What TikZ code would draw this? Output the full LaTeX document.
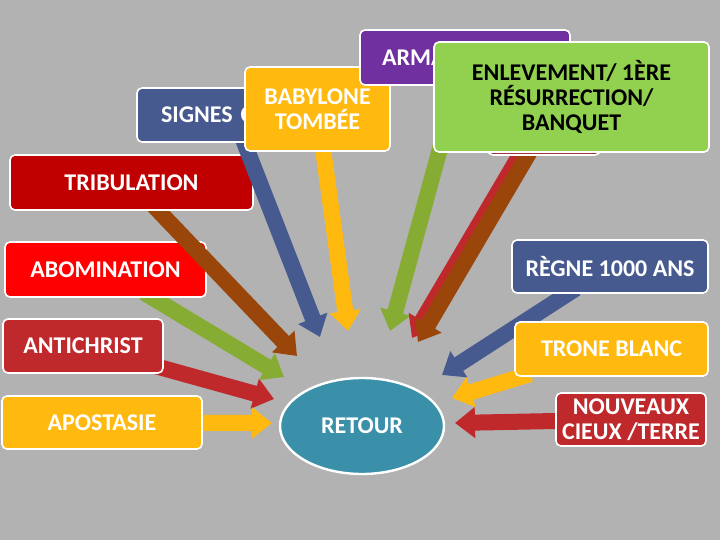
\documentclass[tikz,border=0pt]{standalone}
\usepackage{fontspec}
\setmainfont{Carlito}
\usepackage{tikz}
\usetikzlibrary{arrows.meta,shapes.geometric}
\definecolor{cBg}{HTML}{B2B2B2}
\definecolor{cBlue}{HTML}{475A8F}
\definecolor{cGold}{HTML}{FFB90F}
\definecolor{cPurple}{HTML}{7030A0}
\definecolor{cLime}{HTML}{92D050}
\definecolor{cOlive}{HTML}{86AC33}
\definecolor{cDarkRed}{HTML}{C00000}
\definecolor{cRed}{HTML}{FF0000}
\definecolor{cCrimson}{HTML}{C0292C}
\definecolor{cMaroon}{HTML}{A0383A}
\definecolor{cBrown}{HTML}{9A4509}
\definecolor{cTeal}{HTML}{3990A8}
\pgfdeclarelayer{bg}
\pgfdeclarelayer{under}
\pgfdeclarelayer{mid}
\pgfdeclarelayer{over}
\pgfdeclarelayer{top}
\pgfsetlayers{bg,main,under,mid,over,top}
\tikzset{
  card/.style={draw=white, line width=1.6pt, rounded corners=5pt, text=white, align=center,
               inner sep=0pt, font=\bfseries\fontsize{24}{25}\selectfont},
  blk/.style ={line width=16pt, shorten <=-10pt, -{Triangle[width=30pt,length=20pt]}},
}

\begin{document}
\begin{tikzpicture}[x=1pt,y=-1pt]
        \useasboundingbox (0,0) rectangle (720,540);
        \begin{pgfonlayer}{bg}
        \fill[cBg] (0,0) rectangle (720,540);
        \end{pgfonlayer}
        % left column
        \begin{pgfonlayer}{over}
        \node[card, fill=cDarkRed, minimum width=243pt, minimum height=55pt] (tribul) at (131.5,182.5){TRIBULATION};
        \end{pgfonlayer}
        \begin{pgfonlayer}{under}
        \node[card, fill=cRed, minimum width=201pt, minimum height=55pt] (abom) at (105.5,269.5){ABOMINATION};
        \end{pgfonlayer}
        \begin{pgfonlayer}{top}
        \node[card, fill=cCrimson, minimum width=160pt, minimum height=54pt] (anti) at (83,346){ANTICHRIST};
        \node[card, fill=cGold, minimum width=200pt, minimum height=53pt] (apos) at (102,422.5){APOSTASIE};
        % right column
        \node[card, fill=cBlue, minimum width=196pt, minimum height=53pt] (regne) at (610,266.5){RÈGNE 1000 ANS};
        \node[card, fill=cGold, minimum width=193pt, minimum height=54pt] (trone) at (611.5,349){TRONE BLANC};
        \node[card, fill=cCrimson, minimum width=150pt, minimum height=53pt] (nouv) at (631,419.5){NOUVEAUX\\CIEUX /TERRE};
        \node[card, ellipse, fill=cTeal, line width=2.4pt, minimum width=164pt, minimum height=96pt] (retour) at (362,426){RETOUR};
        % top row
        \node[card, fill=cBlue, minimum width=193pt, minimum height=54pt, text width=145pt, inner xsep=24pt, align=left] (signes) at (233.5,115){SIGNES C};
        \node[card, fill=cGold, minimum width=145pt, minimum height=84pt] (baby) at (317.5,109){BABYLONE\\TOMBÉE};
        \node[card, fill=cPurple, minimum width=210pt, minimum height=55pt, text width=166pt, inner xsep=22pt, align=left] (arma) at (465,57.5){ARMA};
        \node[card, fill=cMaroon, minimum width=112pt, minimum height=55pt] (hid) at (544,127.5){};
        \node[card, fill=cLime, text=black, minimum width=275pt, minimum height=110pt] (enlev) at (571.5,97){ENLEVEMENT/ 1ÈRE\\RÉSURRECTION/\\BANQUET};
        \end{pgfonlayer}
        % arrow tips round RETOUR
        \coordinate (tAnti) at (274,399);
        \coordinate (tApos) at (272,423);
        \coordinate (tAbom) at (284,377);
        \coordinate (tTrib) at (297,356);
        \coordinate (tSign) at (320,337);
        \coordinate (tBaby) at (348,331);
        \coordinate (tArma) at (390,331);
        \coordinate (tHidA) at (412,338);
        \coordinate (tHidB) at (418,342);
        \coordinate (tRegne) at (442,375);
        \coordinate (tTrone) at (452,398);
        \coordinate (tNouv) at (455,423);
        \draw[blk, cCrimson](anti)--(tAnti);
        \draw[blk, cGold](apos)--(tApos);
        \draw[blk, cOlive](abom)--(tAbom);
        \draw[blk, cGold](baby)--(tBaby);
        \draw[blk, cOlive](arma)--(tArma);
        \draw[blk, cCrimson]([xshift=-8pt]hid.center)--(tHidA);
        \draw[blk, cBrown](hid)--(tHidB);
        \draw[blk, cBlue](regne)--(tRegne);
        \draw[blk, cGold](trone)--(tTrone);
        \draw[blk, cCrimson](nouv)--(tNouv);
        \begin{pgfonlayer}{mid}
        \draw[blk, cBrown](tribul)--(tTrib);
        \end{pgfonlayer}
        \begin{pgfonlayer}{over}
        \draw[blk, cBlue](signes)--(tSign);
        \end{pgfonlayer}
\end{tikzpicture}
\end{document}
